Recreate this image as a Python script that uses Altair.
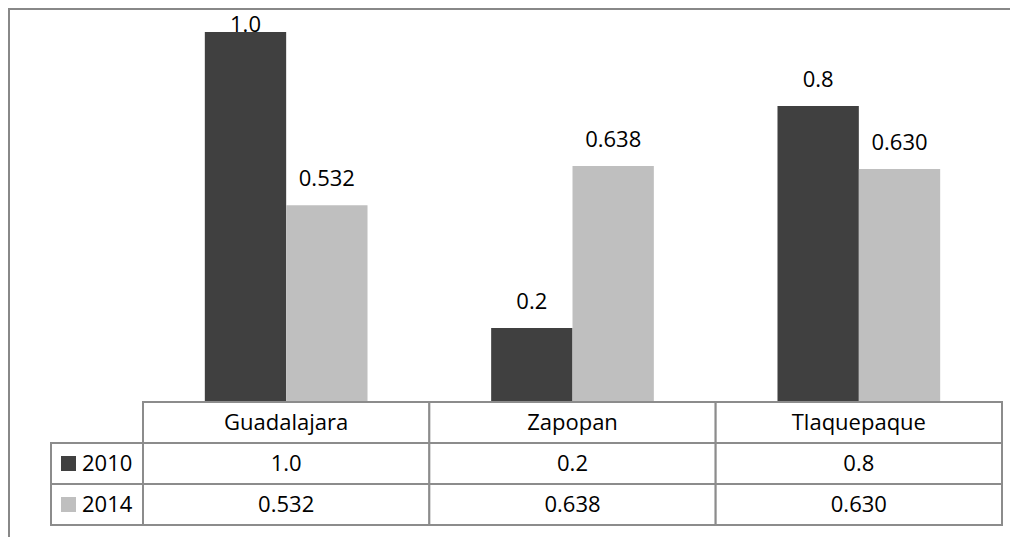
import altair as alt
import pandas as pd

# ---- data ----
categories = ["Guadalajara", "Zapopan", "Tlaquepaque"]
years = ["2010", "2014"]
values_2010 = [1.0, 0.2, 0.8]
values_2014 = [0.532, 0.638, 0.630]
labels_2010 = ["1.0", "0.2", "0.8"]
labels_2014 = ["0.532", "0.638", "0.630"]
year_colors = ["#404040", "#bfbfbf"]

# ---- tables built from the lists ----
bars_rows = []
for cat, v, lab in zip(categories, values_2010, labels_2010):
    bars_rows.append({"category": cat, "year": "2010", "value": v, "label": lab})
for cat, v, lab in zip(categories, values_2014, labels_2014):
    bars_rows.append({"category": cat, "year": "2014", "value": v, "label": lab})
bars_df = pd.DataFrame(bars_rows)

table_rows = []
for cat in categories:
    table_rows.append({"category": cat, "row": "header", "text": cat})
for cat, lab in zip(categories, labels_2010):
    table_rows.append({"category": cat, "row": "2010", "text": lab})
for cat, lab in zip(categories, labels_2014):
    table_rows.append({"category": cat, "row": "2014", "text": lab})
table_df = pd.DataFrame(table_rows)

legend_df = pd.DataFrame({"col": ["legend"] * len(years), "row": years, "text": years})

FONT = "Open Sans"
GRID = "#8c8c8c"

W, H = 1002, 529

x_scale = alt.Scale(domain=categories, range=[135, 994], paddingInner=0, paddingOuter=0)
xo_scale = alt.Scale(domain=years, paddingInner=0, paddingOuter=0.76)
y_scale = alt.Scale(domain=[0, 1], range=[394, 24], nice=False, zero=True)
row_scale = alt.Scale(domain=["header"] + years, range=[394, 517], paddingInner=0, paddingOuter=0)
col_scale = alt.Scale(domain=["legend"], range=[43, 135], paddingInner=0, paddingOuter=0)
color_scale = alt.Scale(domain=years, range=year_colors)

# ---- bars + labels ----
base_bars = alt.Chart(bars_df).encode(
    x=alt.X("category:N", scale=x_scale, axis=None, sort=categories),
    xOffset=alt.XOffset("year:N", scale=xo_scale, sort=years),
)
bars = base_bars.mark_bar(stroke=None).encode(
    y=alt.Y("value:Q", scale=y_scale, axis=None),
    color=alt.Color("year:N", scale=color_scale, legend=None),
)
labels = base_bars.transform_calculate(
    label_y="min(datum.value + 0.0514, 1.0)"
).mark_text(font=FONT, fontSize=22, baseline="alphabetic", align="center", color="#000000").encode(
    y=alt.Y("label_y:Q", scale=y_scale, axis=None),
    text="label:N",
)
bars_group = alt.layer(bars, labels)

# ---- data table ----
cells = alt.Chart(table_df).mark_rect(fill="#ffffff", stroke=GRID, strokeWidth=2).encode(
    x=alt.X("category:N", scale=x_scale, axis=None, sort=categories),
    y=alt.Y("row:N", scale=row_scale, axis=None),
)
cell_text = alt.Chart(table_df).mark_text(
    font=FONT, fontSize=22, baseline="middle", align="center", color="#000000"
).encode(
    x=alt.X("category:N", scale=x_scale, axis=None, sort=categories),
    y=alt.Y("row:N", scale=row_scale, axis=None),
    text="text:N",
)
table_group = alt.layer(cells, cell_text)

# ---- legend column of the table ----
leg_cells = alt.Chart(legend_df).mark_rect(fill="#ffffff", stroke=GRID, strokeWidth=2).encode(
    x=alt.X("col:N", scale=col_scale, axis=None),
    y=alt.Y("row:N", scale=row_scale, axis=None),
)
leg_swatch = alt.Chart(legend_df).mark_square(size=225, opacity=1).encode(
    x=alt.X("col:N", scale=col_scale, axis=None, bandPosition=0.19),
    y=alt.Y("row:N", scale=row_scale, axis=None),
    color=alt.Color("row:N", scale=color_scale, legend=None),
)
leg_text = alt.Chart(legend_df).mark_text(
    font=FONT, fontSize=22, baseline="middle", align="left", color="#000000"
).encode(
    x=alt.X("col:N", scale=col_scale, axis=None, bandPosition=0.337),
    y=alt.Y("row:N", scale=row_scale, axis=None),
    text="text:N",
)
legend_group = alt.layer(leg_cells, leg_swatch, leg_text)

# ---- chart frame (top and left edges) ----
frame_df = pd.DataFrame({"k": [0]})
frame_left = alt.Chart(frame_df).mark_rule(color="#888888", strokeWidth=2).encode(
    x=alt.value(1), y=alt.value(0), y2=alt.value(H)
)
frame_top = alt.Chart(frame_df).mark_rule(color="#888888", strokeWidth=2).encode(
    x=alt.value(0), x2=alt.value(W), y=alt.value(1)
)

chart = alt.layer(
    bars_group, table_group, legend_group, frame_left, frame_top
).resolve_scale(
    x="independent", y="independent", xOffset="independent"
).properties(
    width=W, height=H, padding=0, autosize=alt.AutoSizeParams(type="none"),
    background="#ffffff",
).configure_view(stroke=None)

chart.save("out.html", embed_options={"renderer": "svg", "actions": False})
